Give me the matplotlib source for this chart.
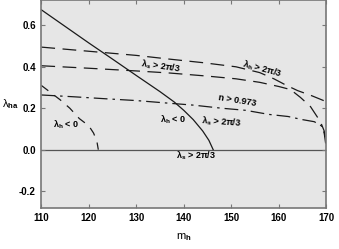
import matplotlib
matplotlib.use("Agg")
import matplotlib.pyplot as plt

plt.rcParams["font.family"] = ["Liberation Sans", "DejaVu Sans"]
plt.rcParams["font.weight"] = "bold"
plt.rcParams["mathtext.fontset"] = "custom"
plt.rcParams["mathtext.rm"] = "Liberation Sans:bold"
plt.rcParams["mathtext.bf"] = "Liberation Sans:bold"
plt.rcParams["mathtext.it"] = "Liberation Sans:bold"
plt.rcParams["mathtext.default"] = "bf"

# solid: lambda_h < 0 boundary
solid_x = [110, 120, 125, 130, 135, 138, 140, 142, 144, 145.3, 146.2]
solid_y = [0.675, 0.515, 0.437, 0.358, 0.28, 0.23, 0.19, 0.145, 0.09, 0.045, 0.0]

# upper dashed: lambda_h > 2pi/3
dash1_x = [110, 120, 130, 137, 144, 151, 156, 159, 161.5, 164, 167, 170]
dash1_y = [0.495, 0.475, 0.455, 0.437, 0.42, 0.40, 0.372, 0.342, 0.312, 0.285, 0.26, 0.232]

# lower dashed: lambda_s > 2pi/3
dash2_x = [110, 120, 130, 137, 145, 151, 156, 160, 162.5, 164.6, 166.7, 168.8, 169.6, 169.9]
dash2_y = [0.405, 0.393, 0.38, 0.37, 0.355, 0.342, 0.325, 0.305, 0.29, 0.252, 0.208, 0.135, 0.09, 0.03]

# dash-dot: n > 0.973
dd_x = [110, 117, 124, 130, 137, 142, 148, 153, 158, 162, 165, 167.5, 169, 169.6, 169.9]
dd_y = [0.264, 0.255, 0.245, 0.237, 0.224, 0.215, 0.2, 0.19, 0.17, 0.16, 0.145, 0.135, 0.115, 0.08, 0.03]

# short dashed, lower left
dl_x = [110, 112, 114, 116, 118, 120, 121, 121.7, 122]
dl_y = [0.31, 0.275, 0.24, 0.2, 0.15, 0.115, 0.08, 0.04, 0.0]

xticks = [110, 120, 130, 140, 150, 160, 170]
yticks = [-0.2, 0.0, 0.2, 0.4, 0.6]

fig = plt.figure(figsize=(3.39, 2.49), dpi=100)
ax = fig.add_axes([0.122, 0.166, 0.84, 0.832])
ax.set_facecolor("#e6e6e6")

lc = "#1a1a1a"
ax.axhline(0, color="#555555", lw=0.9, zorder=1)
ax.plot(solid_x, solid_y, color=lc, lw=0.9)
ax.plot(dash1_x, dash1_y, color=lc, lw=0.9, ls=(0, (11, 6)))
ax.plot(dash2_x, dash2_y, color=lc, lw=0.9, ls=(0, (11, 6)))
ax.plot(dd_x, dd_y, color=lc, lw=0.9, ls=(0, (11, 4, 2, 4)))
ax.plot(dl_x, dl_y, color=lc, lw=0.9, ls=(0, (7, 6)))

fs = 6.5
ax.text(135.1, 0.402, r"λ$_s$ > 2π/3", fontsize=fs, ha="center", va="center", rotation=-8)
ax.text(156.5, 0.39, r"λ$_h$ > 2π/3", fontsize=fs, ha="center", va="center", rotation=-15)
ax.text(151.3, 0.235, "n > 0.973", fontsize=fs, ha="center", va="center", rotation=-9)
ax.text(115.1, 0.118, r"λ$_h$ < 0", fontsize=fs, ha="center", va="center")
ax.text(137.7, 0.142, r"λ$_h$ < 0", fontsize=fs, ha="center", va="center")
ax.text(148.0, 0.132, r"λ$_s$ > 2π/3", fontsize=fs, ha="center", va="center", rotation=-4)
ax.text(142.7, -0.029, r"λ$_s$ > 2π/3", fontsize=fs, ha="center", va="center")

ax.set_xlim(110, 170)
ax.set_ylim(-0.28, 0.72)
ax.set_xticks(xticks)
ax.set_yticks(yticks)
ax.set_yticklabels(["-0.2", "0.0", "0.2", "0.4", "0.6"])
ax.tick_params(direction="in", top=True, right=True, length=3, width=0.8,
               color="#777777", labelsize=7, pad=4)
for s in ax.spines.values():
    s.set_color("#777777")
    s.set_linewidth(1.2)

ax.set_xlabel(r"m$_h$", fontsize=8, labelpad=6)
ax.set_ylabel(r"λ$_{ha}$", fontsize=8, rotation=0, ha="left", va="center")
ax.yaxis.set_label_coords(-0.138, 0.5)

fig.savefig("out.png", dpi=100, facecolor="white")
